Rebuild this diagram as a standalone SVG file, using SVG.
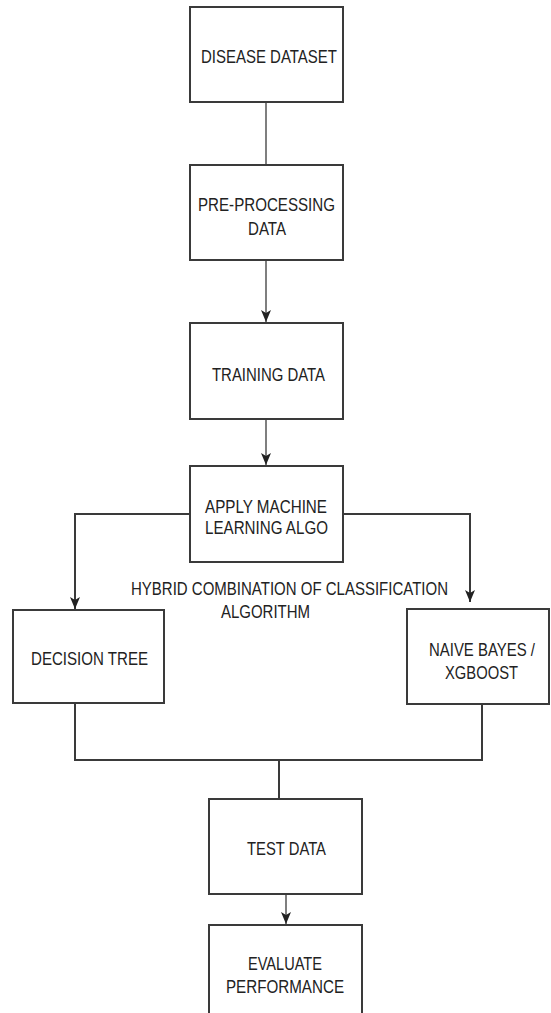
<svg xmlns="http://www.w3.org/2000/svg" width="551" height="1013" viewBox="0 0 551 1013">
<style>
.box{fill:#fff;stroke:#3a3a3a;stroke-width:2}
.lbl{font-family:"Liberation Sans",Arial,sans-serif;font-size:18px;fill:#222}
.thin{fill:none;stroke:#555;stroke-width:1.5}
.thick{fill:none;stroke:#3a3a3a;stroke-width:2}
</style>
<defs>
<marker id="arr" markerWidth="12" markerHeight="10" refX="12" refY="5" orient="auto" markerUnits="userSpaceOnUse" viewBox="0 0 12 10">
<path d="M0,0 L3,5 L0,10 L12,5 Z" fill="#222"/>
</marker>
</defs>
<rect width="551" height="1013" fill="#fff"/>
<g id="connectors">
<path class="thin" d="M266,102 V165"/>
<path class="thin" d="M266,260 V322" marker-end="url(#arr)"/>
<path class="thin" d="M266,419 V465" marker-end="url(#arr)"/>
<path class="thick" d="M190,514 H75 V609" marker-end="url(#arr)"/>
<path class="thick" d="M343,514 H470 V602" marker-end="url(#arr)"/>
<path class="thick" d="M75,703 V760 H482 V704"/>
<path class="thick" d="M279,760 V799"/>
<path class="thin" d="M286,894 V924" marker-end="url(#arr)"/>
</g>
<g id="disease-dataset">
<rect class="box" x="190" y="7" width="153" height="95"/>
<text class="lbl" x="201" y="63" textLength="136" lengthAdjust="spacingAndGlyphs">DISEASE DATASET</text>
</g>
<g id="pre-processing">
<rect class="box" x="190" y="165" width="153" height="95"/>
<text class="lbl" x="198" y="211" textLength="137" lengthAdjust="spacingAndGlyphs">PRE-PROCESSING</text>
<text class="lbl" x="248" y="235" textLength="38" lengthAdjust="spacingAndGlyphs">DATA</text>
</g>
<g id="training-data">
<rect class="box" x="190" y="323" width="153" height="96"/>
<text class="lbl" x="212" y="381" textLength="113" lengthAdjust="spacingAndGlyphs">TRAINING DATA</text>
</g>
<g id="apply-ml">
<rect class="box" x="190" y="466" width="153" height="96"/>
<text class="lbl" x="205" y="513" textLength="122" lengthAdjust="spacingAndGlyphs">APPLY MACHINE</text>
<text class="lbl" x="205" y="534" textLength="123" lengthAdjust="spacingAndGlyphs">LEARNING ALGO</text>
</g>
<g id="hybrid-label">
<text class="lbl" x="131" y="595" textLength="317" lengthAdjust="spacingAndGlyphs">HYBRID COMBINATION OF CLASSIFICATION</text>
<text class="lbl" x="221" y="618" textLength="89" lengthAdjust="spacingAndGlyphs">ALGORITHM</text>
</g>
<g id="decision-tree">
<rect class="box" x="13" y="610" width="151" height="93"/>
<text class="lbl" x="31" y="665" textLength="117" lengthAdjust="spacingAndGlyphs">DECISION TREE</text>
</g>
<g id="naive-bayes">
<rect class="box" x="407" y="609" width="142" height="95"/>
<text class="lbl" transform="translate(429,656) scale(0.83,1)" x="0" y="0">NAIVE BAYES /</text>
<text class="lbl" x="445" y="679" textLength="73" lengthAdjust="spacingAndGlyphs">XGBOOST</text>
</g>
<g id="test-data">
<rect class="box" x="209" y="799" width="153" height="95"/>
<text class="lbl" x="247" y="855" textLength="79" lengthAdjust="spacingAndGlyphs">TEST DATA</text>
</g>
<g id="evaluate">
<rect class="box" x="209" y="925" width="153" height="100"/>
<text class="lbl" x="248" y="970" textLength="74" lengthAdjust="spacingAndGlyphs">EVALUATE</text>
<text class="lbl" x="226" y="993" textLength="118" lengthAdjust="spacingAndGlyphs">PERFORMANCE</text>
</g>
</svg>
